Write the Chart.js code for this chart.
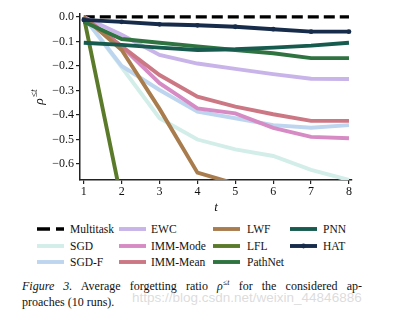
<!DOCTYPE html>
<html>
<head>
<meta charset="utf-8">
<script src="https://cdn.jsdelivr.net/npm/chart.js@4/dist/chart.umd.min.js"></script>
<style>
body{margin:0;background:#fff;width:412px;height:322px;overflow:hidden;position:relative;font-family:"Liberation Serif",serif;color:#111}
#chart{position:absolute;left:0;top:0}
#legend{position:absolute;left:0;top:221px;width:412px;height:50px}
.item{position:absolute;height:16px;font-family:"Liberation Serif",serif;font-size:11.5px;line-height:16px;white-space:nowrap}
.item canvas{position:absolute;left:0;top:4px}
.item span{position:absolute;top:0}
#caption{position:absolute;left:22px;top:275px;width:340px;font-size:12px;line-height:15.5px}
#l1{text-align:justify;text-align-last:justify}
#wm{position:absolute;left:132px;top:290px;font-family:"Liberation Sans",sans-serif;font-size:13.5px;color:rgba(190,190,190,0.55);white-space:nowrap}
</style>
</head>
<body>
<canvas id="chart" width="412" height="215"></canvas>
<div id="legend"></div>
<div id="caption">
<div id="l1"><i>Figure 3.</i> Average forgetting ratio <i>ρ</i><sup style="font-size:8px"><i>≤t</i></sup> for the considered ap-</div>
<div>proaches (10 runs).</div>
</div>
<div id="wm">https://blog.csdn.net/weixin_44846886</div>
<script>
const steps = [1,2,3,4,5,6,7,8]
const xTicks = [1,2,3,4,5,6,7,8]
const yTicks = [0,-0.1,-0.2,-0.3,-0.4,-0.5,-0.6]

const names = ["Multitask","SGD","SGD-F","EWC","IMM-Mode","IMM-Mean","LWF","LFL","PathNet","PNN","HAT"]
const colors = ["#000000","#d3eee8","#bdd5ef","#c8b4e9","#d68bc4","#cc7884","#a97c4e","#5b7b2b","#2f7340","#175b4f","#172c4a"]

const multitask = [0,0,0,0,0,0,0,0]
const sgd = [0,-0.205,-0.413,-0.5,-0.54,-0.567,-0.624,-0.665]
const sgdF = [0,-0.2,-0.298,-0.386,-0.413,-0.441,-0.452,-0.441]
const ewc = [0,-0.073,-0.155,-0.19,-0.212,-0.233,-0.252,-0.253]
const immMode = [0,-0.12,-0.27,-0.373,-0.393,-0.452,-0.489,-0.495]
const immMean = [0,-0.12,-0.237,-0.325,-0.366,-0.397,-0.424,-0.424]
const lwf = [0,-0.135,-0.375,-0.635,-0.68,-0.72,-0.75,-0.78]
const lfl = [0,-0.75,-0.8,-0.82,-0.84,-0.86,-0.88,-0.9]
const pathnet = [-0.02,-0.09,-0.105,-0.12,-0.135,-0.148,-0.168,-0.168]
const pnn = [-0.105,-0.114,-0.125,-0.135,-0.132,-0.125,-0.117,-0.105]
const hat = [-0.012,-0.02,-0.03,-0.034,-0.04,-0.05,-0.06,-0.06]

const series = [multitask,sgd,sgdF,ewc,immMode,immMean,lwf,lfl,pathnet,pnn,hat]

const datasets = series.map((vals,i)=>({
label:names[i],
data:vals.map((v,j)=>({x:steps[j],y:v})),
borderColor:colors[i],
backgroundColor:colors[i],
borderWidth:i===0?3.3:3.9,
borderDash:i===0?[11,5]:[],
pointRadius:names[i]==="HAT"?2.4:0,
pointBorderWidth:0,
tension:0,
clip:0,
order:series.length-i
}))

const minus = s=>s.replace("-","\u2212")

const yLabel = {
id:"yLabel",
afterDraw(chart){
const c = chart.ctx
c.save()
c.translate(41,97)
c.rotate(-Math.PI/2)
c.fillStyle="#111"
c.font='italic 13.5px "Liberation Serif"'
const w1 = c.measureText("ρ").width
c.font='italic 9.5px "Liberation Serif"'
const w2 = c.measureText("≤t").width
const x0 = -(w1+w2+1)/2
c.font='italic 13.5px "Liberation Serif"'
c.fillText("ρ",x0,2)
c.font='italic 9.5px "Liberation Serif"'
c.fillText("≤t",x0+w1+1,-4)
c.restore()
}
}

new Chart(document.getElementById("chart"),{
type:"line",
data:{datasets:datasets},
plugins:[yLabel],
options:{
responsive:false,
devicePixelRatio:1,
animation:false,
layout:{padding:{left:0,right:60,top:14,bottom:0}},
plugins:{legend:{display:false},tooltip:{enabled:false}},
scales:{
x:{
type:"linear",
min:0.9,
max:8.08,
afterBuildTicks:s=>{s.ticks=xTicks.map(v=>({value:v}))},
afterFit:s=>{s.height=35},
ticks:{color:"#111",font:{family:"Liberation Serif",size:12},padding:1,maxRotation:0},
grid:{drawOnChartArea:false,drawTicks:true,tickLength:4,color:"#222",lineWidth:1.2},
border:{display:true,color:"#222",width:1.5},
title:{display:true,text:"t",color:"#111",font:{family:"Liberation Serif",size:13,style:"italic"},padding:{top:2,bottom:0}}
},
y:{
min:-0.665,
max:0.012,
afterBuildTicks:s=>{s.ticks=yTicks.map(v=>({value:v}))},
afterFit:s=>{s.width=80},
ticks:{color:"#111",font:{family:"Liberation Serif",size:12},padding:2,callback:v=>minus(v.toFixed(1))},
grid:{drawOnChartArea:false,drawTicks:true,tickLength:4,color:"#222",lineWidth:1.2},
border:{display:true,color:"#222",width:1.5}
}
}
}
})

// legend, laid out column by column like the figure
const colX = [[37,70],[119,151],[213,247],[290,323]]
const legend = document.getElementById("legend")
names.forEach((n,i)=>{
const col = Math.floor(i/3), row = i%3
const d = document.createElement("div")
d.className="item"
d.style.left=colX[col][0]+"px"
d.style.top=(row*16.5)+"px"
const cv = document.createElement("canvas")
cv.width=28; cv.height=8
const g = cv.getContext("2d")
g.strokeStyle=colors[i]; g.lineWidth=i===0?3.3:3.9
if(i===0) g.setLineDash([13,6])
g.beginPath(); g.moveTo(0,4); g.lineTo(27,4); g.stroke()
if(n==="HAT"){g.fillStyle=colors[i]; g.beginPath(); g.arc(13.5,4,2.4,0,Math.PI*2); g.fill()}
d.appendChild(cv)
const sp = document.createElement("span")
sp.style.left=(colX[col][1]-colX[col][0])+"px"
sp.textContent=n
d.appendChild(sp)
legend.appendChild(d)
})
</script>
</body>
</html>
